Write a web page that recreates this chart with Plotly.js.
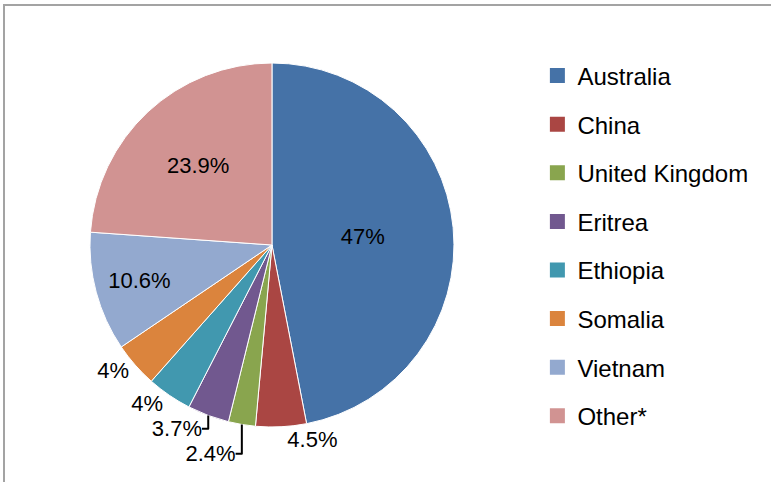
<!DOCTYPE html>
<html>
<head>
<meta charset="utf-8">
<script src="https://cdn.plot.ly/plotly-3.0.1.min.js"></script>
<style>
  html, body { margin: 0; padding: 0; background: #fff; }
  #chart { width: 771px; height: 482px; position: absolute; left: 0; top: 0; }
  #frame { position: absolute; left: 3px; top: 4px; width: 820px; height: 520px;
           border-left: 2px solid #a3a3a3; border-top: 2px solid #a3a3a3; pointer-events: none; }
</style>
</head>
<body>
<div id="chart"></div>
<div id="frame"></div>
<script>
// ---- data ----
const categories = ["Australia", "China", "United Kingdom", "Eritrea", "Ethiopia", "Somalia", "Vietnam", "Other*"];
const shares = [47, 4.5, 2.4, 3.7, 4, 4, 10.6, 23.9];
const colors = ["#4572A7", "#AA4643", "#89A54E", "#71588F", "#4198AF", "#DB843D", "#93A9CF", "#D19392"];
const labelPositions = ["inside", "outside", "outside", "outside", "outside", "outside", "inside", "inside"];

const fontFam = "Liberation Sans, Arial, sans-serif";

const traces = [{
  type: "pie",
  labels: categories,
  values: shares,
  sort: false,
  direction: "clockwise",
  rotation: 0,
  marker: { colors: colors, line: { color: "#ffffff", width: 1 } },
  texttemplate: "%{value}%",
  textposition: labelPositions,
  insidetextorientation: "horizontal",
  textfont: { family: fontFam, size: 22, color: "#000000" },
  insidetextfont: { family: fontFam, size: 22, color: "#000000" },
  outsidetextfont: { family: fontFam, size: 22, color: "#000000" },
  domain: { x: [0.1167, 0.5888], y: [0.1141, 0.8693] },
  showlegend: false,
  hoverinfo: "label+percent"
}];

// legend entries (one per category, same colours as the slices)
categories.forEach((c, i) => {
  traces.push({
    type: "scatter", mode: "markers", name: c, legendgroup: "g" + i,
    x: [null], y: [null],
    marker: { symbol: "square", size: 15, color: colors[i] },
    showlegend: true, hoverinfo: "skip"
  });
});

const layout = {
  width: 771, height: 482,
  margin: { l: 0, r: 0, t: 0, b: 0 },
  paper_bgcolor: "#ffffff", plot_bgcolor: "#ffffff",
  xaxis: { visible: false, domain: [0.9, 1] },
  yaxis: { visible: false },
  showlegend: true,
  legend: {
    x: 0.697, xanchor: "left", y: 0.889, yanchor: "top",
    font: { family: fontFam, size: 24, color: "#000000" },
    traceorder: "grouped", tracegroupgap: 14.4,
    bgcolor: "rgba(0,0,0,0)", borderwidth: 0
  },
  font: { family: fontFam, color: "#000000" }
};

Plotly.newPlot("chart", traces, layout, { displayModeBar: false, staticPlot: true });
</script>
</body>
</html>
